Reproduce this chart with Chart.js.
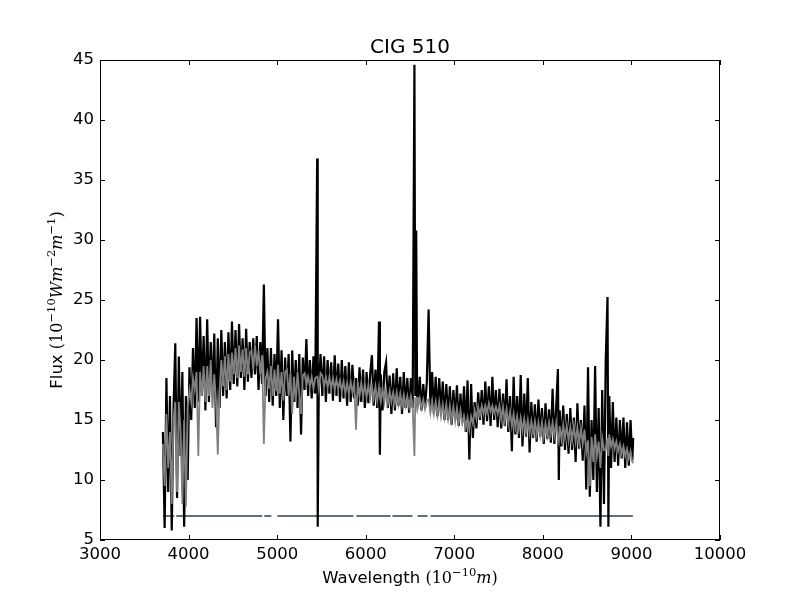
<!DOCTYPE html>
<html>
<head>
    <title>CIG 510</title>
    <script src="https://cdn.jsdelivr.net/npm/chart.js@4.4.0/dist/chart.umd.min.js"></script>
    <style>
        body { margin: 0; background: #fff; }
        canvas { display: block; }
    </style>
</head>
<body>
    <canvas id="chart" width="800" height="600"></canvas>

    <script>
        // Wavelength grid (Angstrom), 20 A steps plus a few extra at the sharp lines
        const wavelength = [
            3710, 3730, 3750, 3770, 3790, 3810, 3830, 3850, 3870, 3890,
            3910, 3930, 3950, 3970, 3990, 4010, 4030, 4050, 4070, 4090,
            4110, 4130, 4150, 4170, 4190, 4210, 4230, 4250, 4270, 4290,
            4310, 4330, 4350, 4370, 4390, 4410, 4430, 4450, 4470, 4490,
            4510, 4530, 4550, 4570, 4590, 4610, 4630, 4650, 4670, 4690,
            4710, 4730, 4750, 4770, 4790, 4810, 4830, 4850, 4870, 4890,
            4910, 4930, 4950, 4970, 4990, 5010, 5030, 5050, 5070, 5090,
            5110, 5130, 5150, 5170, 5190, 5210, 5230, 5250, 5270, 5290,
            5310, 5330, 5350, 5370, 5390, 5410, 5430, 5452, 5458, 5470, 5490,
            5510, 5530, 5550, 5570, 5590, 5610, 5630, 5650, 5670, 5690,
            5710, 5730, 5750, 5770, 5790, 5810, 5830, 5850, 5870, 5890,
            5910, 5930, 5950, 5970, 5990, 6010, 6030, 6050, 6070, 6090,
            6110, 6130, 6150, 6160, 6170, 6190, 6210, 6230, 6250, 6270, 6290,
            6310, 6330, 6350, 6370, 6390, 6410, 6430, 6450, 6470, 6490,
            6510, 6530, 6550, 6560, 6570, 6580, 6590, 6610, 6630, 6650, 6670, 6690,
            6710, 6730, 6750, 6770, 6790, 6810, 6830, 6850, 6870, 6890,
            6910, 6930, 6950, 6970, 6990, 7010, 7030, 7050, 7070, 7090,
            7110, 7130, 7150, 7170, 7190, 7210, 7230, 7250, 7270, 7290,
            7310, 7330, 7350, 7370, 7390, 7410, 7430, 7450, 7470, 7490,
            7510, 7530, 7550, 7570, 7590, 7610, 7630, 7650, 7670, 7690,
            7710, 7730, 7750, 7770, 7790, 7810, 7830, 7850, 7870, 7890,
            7910, 7930, 7950, 7970, 7990, 8010, 8030, 8050, 8070, 8090,
            8110, 8130, 8150, 8170, 8180, 8190, 8210, 8230, 8250, 8270, 8290,
            8310, 8330, 8350, 8370, 8390, 8410, 8430, 8450, 8470, 8490,
            8510, 8530, 8550, 8570, 8590, 8610, 8630, 8650, 8670, 8690,
            8710, 8730, 8740, 8750, 8770, 8790, 8810, 8830, 8850, 8870, 8890,
            8910, 8930, 8950, 8970, 8990, 9010, 9020
        ];

        // Observed spectrum (black)
        const observedFlux = [
            14, 6, 18.5, 9, 17, 5.8, 16, 21.4, 8.5, 20.3,
            12, 19, 6.1, 17, 10, 19.4, 15, 21, 16, 23.5,
            16.5, 23.6, 17, 22, 15.8, 23.4, 16.5, 21.5, 17, 22.2,
            14.4, 21.8, 16, 22.5, 17, 21.5, 16.8, 22.3, 17.5, 23.2,
            18, 22.5, 17.8, 23, 18.5, 21.8, 17.5, 22.6, 18.2, 21.5,
            18.5, 21.8, 18.8, 22, 17.5, 21.5, 18, 26.3, 17, 21,
            16.5, 21, 16.2, 20.5, 17, 23.4, 16, 20.8, 15, 20.2,
            17, 20.5, 13.2, 20.8, 16.5, 20, 16, 20.5, 13.8, 20.2,
            17.5, 21.75, 17, 20, 16.8, 20.3, 17.2, 36.8, 6.1, 17.5, 20.5,
            17, 20.3, 16.5, 20, 17.2, 19.8, 16.6, 20.4, 17, 19.7,
            16.5, 20, 16.8, 19.5, 16.2, 19.8, 16.5, 19.6, 16.8, 18.5,
            16.2, 19.4, 16.5, 19.2, 16, 19, 16.4, 18.8, 20.4, 16.2,
            19.2, 16, 23.2, 12.1, 18.8, 15.8, 19, 19.8, 16, 18.7, 15.5,
            18.9, 15.8, 19.3, 16.2, 18.6, 15.5, 19, 16, 18.5, 15.6,
            18.5, 16, 44.6, 17, 30.8, 17.2, 16.2, 18.6, 15.8, 18, 16, 18.2,
            24.2, 16, 19, 15.5, 18.6, 15.3, 18.5, 15.6, 18.2, 15,
            18, 15, 17.8, 14.6, 17.5, 15, 17.9, 14.5, 17.2, 14.8,
            17.8, 14, 18.3, 11.7, 18, 13.5, 16.5, 14.3, 17.3, 15,
            17.5, 14.6, 18.2, 14.9, 17.8, 14.5, 18.6, 15, 17.5, 14.4,
            17.6, 14.3, 17.2, 14.5, 18.4, 14, 17, 12.4, 18.6, 13.8,
            17, 13.5, 18.75, 12.8, 17.2, 13.6, 18.5, 12.3, 16.5, 13.5,
            16.3, 13.2, 16.7, 13.6, 16, 13, 16.4, 13.4, 15.9, 13.1,
            17.6, 13, 16, 19.25, 10, 15.8, 12.8, 16.2, 12.5, 15.5, 12.2,
            16, 12.5, 15.2, 11.5, 16.4, 12.6, 15, 11.6, 16.2, 9.2,
            19.4, 8.6, 15, 10, 19.5, 9, 16, 6.1, 17.5, 8,
            20, 25.25, 6.1, 17, 11, 16.5, 11.5, 15.2, 11.2, 15, 11.8,
            15.2, 11, 14.8, 11.2, 15, 11.6, 13.5
        ];

        // Fitted model (grey)
        const modelFlux = [
            13, 9.5, 15.5, 11, 14, 8, 15, 16.5, 9, 16.5,
            14, 8, 15, 7.8, 16, 17.5, 16.5, 18.5, 17.5, 19,
            12, 19, 17, 19.5, 16.5, 19.5, 17, 20, 16, 18.8,
            16.5, 12.1, 17.5, 20, 17.8, 20.3, 17.5, 20.5, 18.2, 20.6,
            18.8, 21, 18.5, 21.2, 19, 20.9, 18.6, 21, 18.8, 20.6,
            20.8, 19.2, 21.2, 19.5, 20.8, 18.8, 20.4, 13, 18.4, 19,
            17.6, 19.5, 17, 19.2, 17.4, 19.6, 17.2, 19, 16.6, 19,
            19.2, 17, 18.9, 15.5, 18.6, 16.5, 19, 17.2, 15.5, 18.7,
            18.9, 17.9, 18.6, 17.8, 18.6, 17.6, 18.5, 18.6, 18.4, 17.6, 18.9,
            18.7, 17.8, 18.6, 17.7, 18.6, 17.6, 18.5, 17.5, 18.4, 17.6,
            18.3, 17.4, 18.2, 17.2, 18.1, 17.2, 18.2, 17.3, 18.1, 14.2,
            18.2, 17, 18.1, 16.9, 18, 16.9, 17.9, 16.8, 17.8, 16.8,
            17.8, 16.6, 17.7, 16.9, 16.5, 17.6, 16.5, 17.5, 16.4, 17.4, 16.5,
            17.3, 16.4, 17.3, 16.3, 17.2, 16.2, 17.1, 16.2, 17, 16.1,
            17, 16.2, 12, 16.9, 16.2, 16.9, 16.1, 16.8, 16, 16.7, 15.9, 16.6,
            16.7, 15.6, 16.6, 15.5, 16.5, 15.4, 16.5, 15.3, 16.3, 15.2,
            16.3, 15.1, 16.2, 15, 16.1, 14.9, 16, 14.8, 15.8, 14.7,
            15.3, 14.4, 15.2, 14.2, 15.3, 14.7, 15.8, 15.1, 16.1, 15.4,
            16.2, 15.5, 16.2, 15.6, 16.4, 15.7, 16.2, 15.6, 16.1, 15.5,
            16.2, 15.1, 16.1, 14.9, 15.9, 14.7, 15.7, 14.5, 15.5, 14.4,
            15.3, 14.2, 15.2, 14.1, 15.1, 14, 15, 13.9, 14.9, 13.9,
            14.9, 13.8, 14.8, 13.7, 14.8, 13.6, 14.7, 13.7, 14.8, 13.8,
            14.8, 13.7, 14.7, 13.5, 13.2, 14.5, 13.4, 14.6, 13.5, 14.5, 13.3,
            14.4, 13.3, 14.5, 13.2, 14.4, 13.1, 14.3, 13, 14.2, 12.3,
            13.3, 9.5, 13.6, 11.5, 13.8, 12, 13.2, 11, 13.5, 12.5,
            12.5, 13.5, 12, 13.8, 12.8, 13.4, 12.6, 13.2, 12.4, 13, 12.2,
            12.8, 12, 12.6, 11.8, 12.4, 11.5, 11.4
        ];

        // Mask line at flux 7, segments with gaps
        const maskLevel = 7;
        const maskStart = [3712, 3860, 4855, 5002, 5895, 6302, 6585, 6732];
        const maskEnd   = [3837, 4832, 4934, 5861, 6280, 6528, 6698, 9016];

        const xTicks = [3000, 4000, 5000, 6000, 7000, 8000, 9000, 10000];
        const yTicks = [5, 10, 15, 20, 25, 30, 35, 40, 45];

        const observedData = wavelength.map((w, i) => ({ x: w, y: observedFlux[i] }));
        const modelData = wavelength.map((w, i) => ({ x: w, y: modelFlux[i] }));
        const maskData = [];
        maskStart.forEach((s, i) => {
            maskData.push({ x: s, y: maskLevel });
            maskData.push({ x: maskEnd[i], y: maskLevel });
            maskData.push({ x: maskEnd[i], y: null });
        });

        // draw a label made of pieces in different fonts (for the math parts)
        function drawRuns(ctx, runs, x, y, rotate) {
            let total = 0;
            runs.forEach(r => {
                ctx.font = r.font;
                r.w = ctx.measureText(r.text).width;
                total += r.w;
            });
            ctx.save();
            ctx.translate(x, y);
            if (rotate) ctx.rotate(-Math.PI / 2);
            ctx.fillStyle = '#000';
            ctx.textAlign = 'left';
            ctx.textBaseline = 'alphabetic';
            let cx = -total / 2;
            runs.forEach(r => {
                ctx.font = r.font;
                ctx.fillText(r.text, cx, -(r.rise || 0));
                cx += r.w;
            });
            ctx.restore();
        }

        const SANS = '16.5px "DejaVu Sans"';
        const SERIF = '16px "DejaVu Serif"';
        const ITAL = 'italic 16px "DejaVu Serif"';
        const SUP = '11.5px "DejaVu Serif"';

        const framePlugin = {
            id: 'frame',
            afterDatasetsDraw(chart) {
                const { ctx, chartArea: a, scales } = chart;
                ctx.save();
                ctx.strokeStyle = '#000';
                ctx.lineWidth = 1;
                ctx.strokeRect(a.left + 0.5, a.top + 0.5, a.right - a.left - 1, a.bottom - a.top - 1);
                ctx.beginPath();
                scales.x.ticks.forEach(t => {
                    const px = Math.round(scales.x.getPixelForValue(t.value)) + 0.5;
                    ctx.moveTo(px, a.bottom); ctx.lineTo(px, a.bottom - 5);
                    ctx.moveTo(px, a.top); ctx.lineTo(px, a.top + 5);
                });
                scales.y.ticks.forEach(t => {
                    const py = Math.round(scales.y.getPixelForValue(t.value)) + 0.5;
                    ctx.moveTo(a.left, py); ctx.lineTo(a.left + 5, py);
                    ctx.moveTo(a.right, py); ctx.lineTo(a.right - 5, py);
                });
                ctx.stroke();
                ctx.restore();
            },
            afterDraw(chart) {
                const ctx = chart.ctx;
                const a = chart.chartArea;
                const cx = (a.left + a.right) / 2;
                const cy = (a.top + a.bottom) / 2;

                ctx.save();
                ctx.fillStyle = '#000';
                ctx.font = '20px "DejaVu Sans"';
                ctx.textAlign = 'center';
                ctx.textBaseline = 'alphabetic';
                ctx.fillText('CIG 510', cx, 53);
                ctx.restore();

                drawRuns(ctx, [
                    { text: 'Wavelength ', font: SANS },
                    { text: '(10', font: SERIF },
                    { text: '\u221210', font: SUP, rise: 7 },
                    { text: 'm', font: ITAL },
                    { text: ')', font: SERIF }
                ], cx, 583, false);

                drawRuns(ctx, [
                    { text: 'Flux ', font: SANS },
                    { text: '(10', font: SERIF },
                    { text: '\u221210', font: SUP, rise: 7 },
                    { text: 'Wm', font: ITAL },
                    { text: '\u22122', font: SUP, rise: 7 },
                    { text: 'm', font: ITAL },
                    { text: '\u22121', font: SUP, rise: 7 },
                    { text: ')', font: SERIF }
                ], 62, cy, true);
            }
        };

        const ctx = document.getElementById('chart').getContext('2d');

        new Chart(ctx, {
            type: 'line',
            data: {
                datasets: [
                    {
                        label: 'model',
                        data: modelData,
                        borderColor: '#808080',
                        borderWidth: 1.8,
                        pointRadius: 0,
                        tension: 0,
                        order: 0
                    },
                    {
                        label: 'observed',
                        data: observedData,
                        borderColor: '#000000',
                        borderWidth: 2.2,
                        pointRadius: 0,
                        tension: 0,
                        order: 1
                    },
                    {
                        label: 'mask',
                        data: maskData,
                        borderColor: '#607076',
                        borderWidth: 2,
                        pointRadius: 0,
                        tension: 0,
                        spanGaps: false,
                        order: 2
                    }
                ]
            },
            options: {
                responsive: false,
                animation: false,
                layout: { padding: { top: 60, right: 80, left: 0, bottom: 0 } },
                plugins: {
                    legend: { display: false },
                    tooltip: { enabled: false },
                    title: { display: false }
                },
                scales: {
                    x: {
                        type: 'linear',
                        min: 3000,
                        max: 10000,
                        afterBuildTicks: s => { s.ticks = xTicks.map(v => ({ value: v })); },
                        afterFit: s => { s.height = 60; },
                        grid: { display: false, drawTicks: false },
                        border: { display: false },
                        ticks: {
                            autoSkip: false,
                            maxRotation: 0,
                            minRotation: 0,
                            padding: 5,
                            color: '#000',
                            font: { family: 'DejaVu Sans', size: 16.5 },
                            callback: v => String(v)
                        }
                    },
                    y: {
                        type: 'linear',
                        min: 5,
                        max: 45,
                        afterBuildTicks: s => { s.ticks = yTicks.map(v => ({ value: v })); },
                        afterFit: s => { s.width = 100; },
                        grid: { display: false, drawTicks: false },
                        border: { display: false },
                        ticks: {
                            autoSkip: false,
                            padding: 6,
                            color: '#000',
                            font: { family: 'DejaVu Sans', size: 16.5 },
                            callback: v => String(v)
                        }
                    }
                }
            },
            plugins: [framePlugin]
        });
    </script>
</body>
</html>
